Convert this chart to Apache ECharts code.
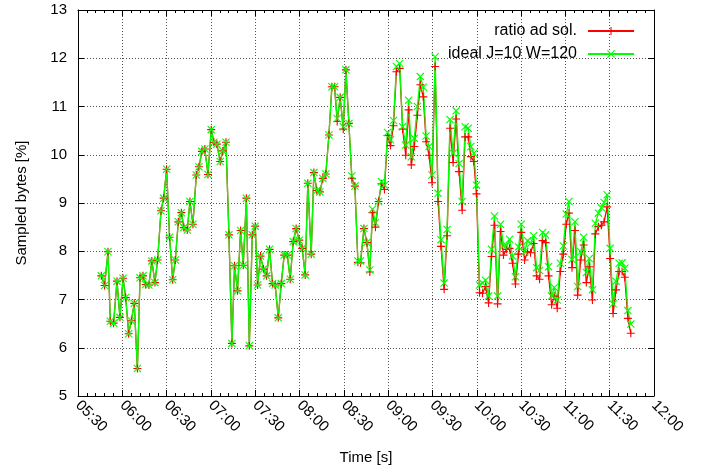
<!DOCTYPE html>
<html><head><meta charset="utf-8">
<script src="https://cdn.jsdelivr.net/npm/echarts@6/dist/echarts.min.js"></script>
<style>html,body{margin:0;padding:0;background:#fff}#c{width:707px;height:472px}</style>
</head><body><div id="c"></div>
<script>
// time of each sample, minutes after midnight
const timeMinutes = [
345.8,348,350.3,351.9,354.1,356.4,358.4,360.5,362.3,364.3,366.1,368.1,370.2,372,374,375.8,378,380,382.1,383.9,
386.2,388,390,392,394.1,395.9,397.9,400,401.7,404,405.8,407.8,410.1,411.9,413.9,415.9,418,420.2,422,424,
426.3,428.1,430.2,432.2,434.2,436,438,440.1,441.9,444,446,448,450,
451.6,453.6,455.6,457.7,459.7,461.7,463.5,465.6,467.6,469.6,471.7,473.7,475.7,477.7,479.8,481.8,483.8,485.6,487.9,489.7,
491.7,493.8,495.8,497.8,499.9,501.9,503.7,505.5,507.5,509.6,511.4,513.4,515.4,517.5,519.5,521.3,523.6,525.6,527.6,529.4,
531.4,533.5,535.5,537.5,539.6,541.6,543.6,545.6,
547.8,549.8,551.9,553.9,555.7,557.7,559.8,561.8,563.8,565.7,567.7,569.7,571.8,573.8,575.8,577.9,579.9,581.9,584,586,
588,590.1,592.1,594.2,596,598,599.8,601.9,603.9,605.9,608,610,612,614.1,616.1,618.1,620.2,
622.2,624.2,626.2,628.3,630.1,632.4,634.4,636.4,638.5,640.5,642.5,644.6,646.6,648.6,650.7,652.5,654.5,656.6,658.6,660.6,
662.4,664.5,666.5,668.3,670.4,672.4,674.2,676.2,678.3,680.3,682.4,684.4,686.2,688.3,690.3,692.3,694.3,696.4,698.4,700.2,
702.3,704.3
];
const ratioAdSol = [
7.49,7.29,7.99,6.55,6.51,7.38,6.63,7.44,7.04,6.29,6.56,6.92,5.57,7.45,7.49,7.31,7.30,7.80,7.35,7.82,
8.84,9.10,9.70,8.29,7.41,7.82,8.61,8.80,8.49,8.44,9.03,8.56,9.58,9.75,10.07,10.12,9.59,10.52,10.26,10.22,
9.86,10.08,10.26,8.34,6.09,7.70,7.18,8.43,7.71,9.10,6.04,8.34,8.52,
7.30,7.90,7.63,7.49,8.04,7.33,7.30,6.62,7.33,7.92,7.92,7.42,8.20,8.47,8.23,8.06,7.51,9.41,7.94,9.63,
9.26,9.23,9.51,9.60,10.41,11.41,11.41,10.69,11.19,10.53,11.76,10.65,9.51,9.35,7.77,7.76,8.47,8.18,7.57,8.80,
8.50,9.03,9.40,9.28,10.40,10.19,10.60,11.72,
11.79,10.53,9.99,10.93,9.79,10.17,10.82,11.45,11.20,10.27,9.99,9.42,11.83,9.03,8.10,7.21,8.32,10.55,9.84,10.74,
9.65,8.85,10.37,10.37,9.96,9.86,9.19,7.14,7.13,7.27,6.93,7.89,8.54,6.91,8.41,7.92,8.04,
8.06,7.75,7.32,7.94,8.39,7.82,7.99,7.97,8.16,7.49,7.42,8.22,8.18,7.49,6.89,7.07,6.82,7.58,7.94,8.56,
8.79,7.66,8.43,7.09,7.82,8.13,7.35,7.68,6.99,8.36,8.51,8.54,8.61,8.92,7.85,6.71,7.20,7.58,7.58,7.46,
6.61,6.30
];
const idealJ10W120 = [
7.49,7.29,7.99,6.55,6.51,7.38,6.63,7.44,7.04,6.29,6.56,6.92,5.57,7.45,7.49,7.31,7.30,7.80,7.35,7.82,
8.84,9.10,9.70,8.29,7.41,7.82,8.61,8.80,8.49,8.44,9.03,8.56,9.58,9.75,10.07,10.12,9.59,10.52,10.26,10.22,
9.86,10.08,10.26,8.34,6.09,7.70,7.18,8.43,7.71,9.10,6.04,8.34,8.52,
7.30,7.90,7.63,7.49,8.04,7.33,7.30,6.62,7.33,7.92,7.92,7.42,8.20,8.47,8.23,8.06,7.51,9.41,7.94,9.63,
9.26,9.23,9.51,9.60,10.41,11.41,11.41,10.75,11.19,10.58,11.76,10.65,9.56,9.35,7.80,7.80,8.47,8.18,7.61,8.87,
8.59,9.03,9.44,9.37,10.46,10.31,10.71,11.83,
11.89,10.58,10.20,11.13,9.96,10.34,11.00,11.62,11.40,10.39,10.17,9.58,12.03,9.20,8.24,7.34,8.45,10.73,10.03,10.91,
9.82,9.03,10.58,10.55,10.17,10.03,9.37,7.30,7.34,7.40,7.07,8.04,8.73,7.07,8.56,8.11,8.12,
8.25,7.90,7.47,8.09,8.56,7.99,8.22,8.16,8.32,7.66,7.60,8.39,8.34,7.68,7.07,7.25,6.99,7.75,8.11,8.77,
9.03,7.83,8.61,7.27,7.99,8.29,7.56,7.85,7.20,8.58,8.79,8.90,9.01,9.17,8.06,6.91,7.38,7.75,7.76,7.65,
6.77,6.49
];
const xTickLabels = ['05:30','06:00','06:30','07:00','07:30','08:00','08:30','09:00','09:30','10:00','10:30','11:00','11:30','12:00'];
const seriesNames = ['ratio ad sol.', 'ideal J=10 W=120'];

const FONT = 'Liberation Sans, Arial, Helvetica, sans-serif';
const plusPath = 'path://M0,4.3L10,4.3L10,5.7L0,5.7Z M4.3,0L5.7,0L5.7,10L4.3,10Z';
const crossPath = 'path://M0,1L1,0L10,9L9,10Z M9,0L10,1L1,10L0,9Z';

const X_MIN = 330, X_MAX = 720, X_STEP = 30;
const xFmt = v => xTickLabels[Math.round((v - X_MIN) / X_STEP)] || '';

const tickStyle = {color: '#000', width: 1};
const axisLine = {show: true, lineStyle: {color: '#000', width: 1}};
const gridLine = {show: true, lineStyle: {type: [1, 2], color: '#555', width: 1}};

const chart = echarts.init(document.getElementById('c'), null, {renderer: 'canvas'});
chart.setOption({
  animation: false,
  backgroundColor: '#fff',
  grid: {left: 78, right: 53, top: 10, bottom: 76},
  legend: {
    orient: 'vertical', right: 67, top: 18, align: 'right',
    itemWidth: 46, itemHeight: 10, itemGap: 7,
    textStyle: {fontSize: 16, fontFamily: FONT, color: '#000', padding: [0, 6, 0, 0]},
    data: seriesNames
  },
  xAxis: [{
    type: 'value', min: X_MIN, max: X_MAX, interval: X_STEP, position: 'bottom',
    axisLine: axisLine,
    axisTick: {show: true, inside: true, length: 6, lineStyle: tickStyle},
    minorTick: {show: true, splitNumber: 5, length: 3, lineStyle: tickStyle},
    axisLabel: {rotate: -45, fontSize: 15, fontFamily: FONT, color: '#000', margin: 7, formatter: xFmt},
    splitLine: gridLine,
    name: 'Time [s]', nameLocation: 'middle', nameGap: 54,
    nameTextStyle: {fontSize: 15, fontFamily: FONT, color: '#000'}
  }, {
    type: 'value', min: X_MIN, max: X_MAX, interval: X_STEP, position: 'top',
    axisLine: axisLine,
    axisTick: {show: true, inside: true, length: 6, lineStyle: tickStyle},
    minorTick: {show: true, splitNumber: 5, length: 3, lineStyle: tickStyle},
    axisLabel: {show: false}, splitLine: {show: false}
  }],
  yAxis: [{
    type: 'value', min: 5, max: 13, interval: 1, position: 'left',
    axisLine: axisLine,
    axisTick: {show: true, inside: true, length: 6, lineStyle: tickStyle},
    axisLabel: {fontSize: 15, fontFamily: FONT, color: '#000', margin: 11},
    splitLine: gridLine,
    name: 'Sampled bytes [%]', nameLocation: 'middle', nameGap: 49, nameRotate: 90,
    nameTextStyle: {fontSize: 15, fontFamily: FONT, color: '#000'}
  }, {
    type: 'value', min: 5, max: 13, interval: 1, position: 'right',
    axisLine: axisLine,
    axisTick: {show: true, inside: true, length: 6, lineStyle: tickStyle},
    axisLabel: {show: false}, splitLine: {show: false}
  }],
  series: [{
    name: seriesNames[0], type: 'line', xAxisIndex: 0, yAxisIndex: 0,
    data: timeMinutes.map((t, i) => [t, ratioAdSol[i]]),
    symbol: plusPath, symbolSize: 8, showSymbol: true,
    lineStyle: {color: '#ff0000', width: 1.3},
    itemStyle: {color: '#ff0000'},
    emphasis: {disabled: true}
  }, {
    name: seriesNames[1], type: 'line', xAxisIndex: 0, yAxisIndex: 0,
    data: timeMinutes.map((t, i) => [t, idealJ10W120[i]]),
    symbol: crossPath, symbolSize: 8, showSymbol: true,
    lineStyle: {color: '#00ff00', width: 1.3},
    itemStyle: {color: '#00ff00'},
    emphasis: {disabled: true}
  }]
});
</script>
</body></html>
